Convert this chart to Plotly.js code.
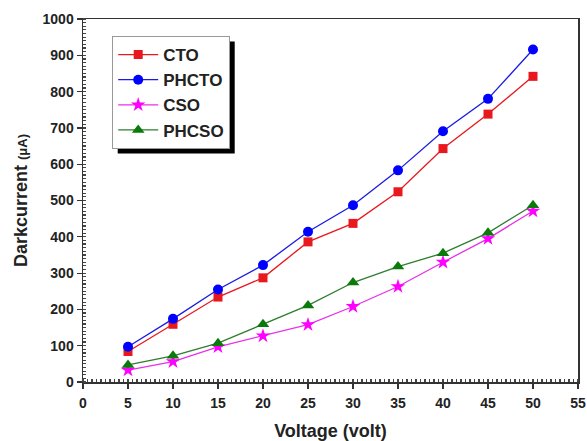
<!DOCTYPE html>
<html><head><meta charset="utf-8">
<script src="https://cdn.plot.ly/plotly-3.0.1.min.js"></script>
<style>html,body{margin:0;padding:0;background:#fff}#chart{width:587px;height:441px}</style>
</head><body><div id="chart"></div>
<script>
const voltage = [5,10,15,20,25,30,35,40,45,50];
const cto   = [84,159,234,287,386,437,524,643,738,842];
const phcto = [97,174,255,322,414,487,583,691,780,916];
const cso   = [33,56,97,127,158,208,263,330,395,471];
const phcso = [47,72,107,159,211,274,318,355,411,487];

const base = {x: voltage, mode: 'lines+markers'};
const traces = [
  Object.assign({}, base, {y: cto, name: 'CTO', line: {color: '#e8181e', width: 1.3}, marker: {symbol: 'square', size: 9, color: '#e8181e'}}),
  Object.assign({}, base, {y: phcto, name: 'PHCTO', line: {color: '#1a1ae6', width: 1.3}, marker: {symbol: 'circle', size: 10, color: '#0000ff'}}),
  Object.assign({}, base, {y: cso, name: 'CSO', line: {color: '#e830e8', width: 1.3}, marker: {symbol: 'star', size: 11, color: '#ff00ff'}}),
  Object.assign({}, base, {y: phcso, name: 'PHCSO', line: {color: '#2e7d2e', width: 1.3}, marker: {symbol: 'triangle-up', size: 11, color: '#0a7a0a'}})
];

const FF = 'Liberation Sans, Arial, sans-serif';
const axisFont = {family: FF, size: 14, color: '#222', weight: 'bold'};
const layout = {
  width: 587, height: 441,
  margin: {l: 83, r: 9, t: 19, b: 59},
  paper_bgcolor: '#fff', plot_bgcolor: '#fff',
  font: {family: FF, color: '#222'},
  showlegend: true,
  legend: {x: 0.059, y: 0.953, xanchor: 'left', yanchor: 'top', bgcolor: '#fff', bordercolor: '#999', borderwidth: 1,
           itemwidth: 40, font: {family: FF, size: 17, color: '#222', weight: 'bold'}, tracegroupgap: 0},
  xaxis: {
    range: [0, 55], dtick: 5, tick0: 0, showgrid: false, zeroline: false,
    showline: true, linecolor: '#333', linewidth: 1.5, mirror: true,
    ticks: 'outside', ticklen: 5, tickcolor: '#333', tickwidth: 1.2, ticklabelstandoff: 3,
    minor: {dtick: 0.5, ticks: 'inside', ticklen: 3, tickcolor: '#444', showgrid: false},
    tickfont: axisFont,
    title: {text: 'Voltage (volt)', font: {family: FF, size: 18, color: '#222', weight: 'bold'}, standoff: 14}
  },
  yaxis: {
    range: [0, 1000], dtick: 100, showgrid: false, zeroline: false,
    showline: true, linecolor: '#333', linewidth: 1.5, mirror: true,
    ticks: 'outside', ticklen: 5, tickcolor: '#333', tickwidth: 1.2,
    minor: {dtick: 10, ticks: 'inside', ticklen: 3, tickcolor: '#444', showgrid: false},
    tickfont: axisFont,
    title: {text: 'Darkcurrent <span style="font-size:13px">(μA)</span>', font: {family: FF, size: 18, color: '#222', weight: 'bold'}, standoff: 10}
  }
};
Plotly.newPlot('chart', traces, layout, {displayModeBar: false, staticPlot: true}).then(function (gd) {
  // drop shadow behind the legend box, offset by 5px
  const bg = gd.querySelector('.legend .bg');
  const plot = gd._fullLayout._size;
  if (!bg) return;
  const r = bg.getBoundingClientRect();
  const c = gd.getBoundingClientRect();
  const off = 5;
  const x0 = (r.left - c.left + off - plot.l) / plot.w;
  const x1 = (r.right - c.left + off - plot.l) / plot.w;
  const y1 = 1 - (r.top - c.top + off - plot.t) / plot.h;
  const y0 = 1 - (r.bottom - c.top + off - plot.t) / plot.h;
  return Plotly.relayout(gd, {shapes: [{type: 'rect', xref: 'paper', yref: 'paper', x0: x0, x1: x1, y0: y0, y1: y1,
    fillcolor: '#000', line: {width: 0}, layer: 'above'}]});
});
</script></body></html>
